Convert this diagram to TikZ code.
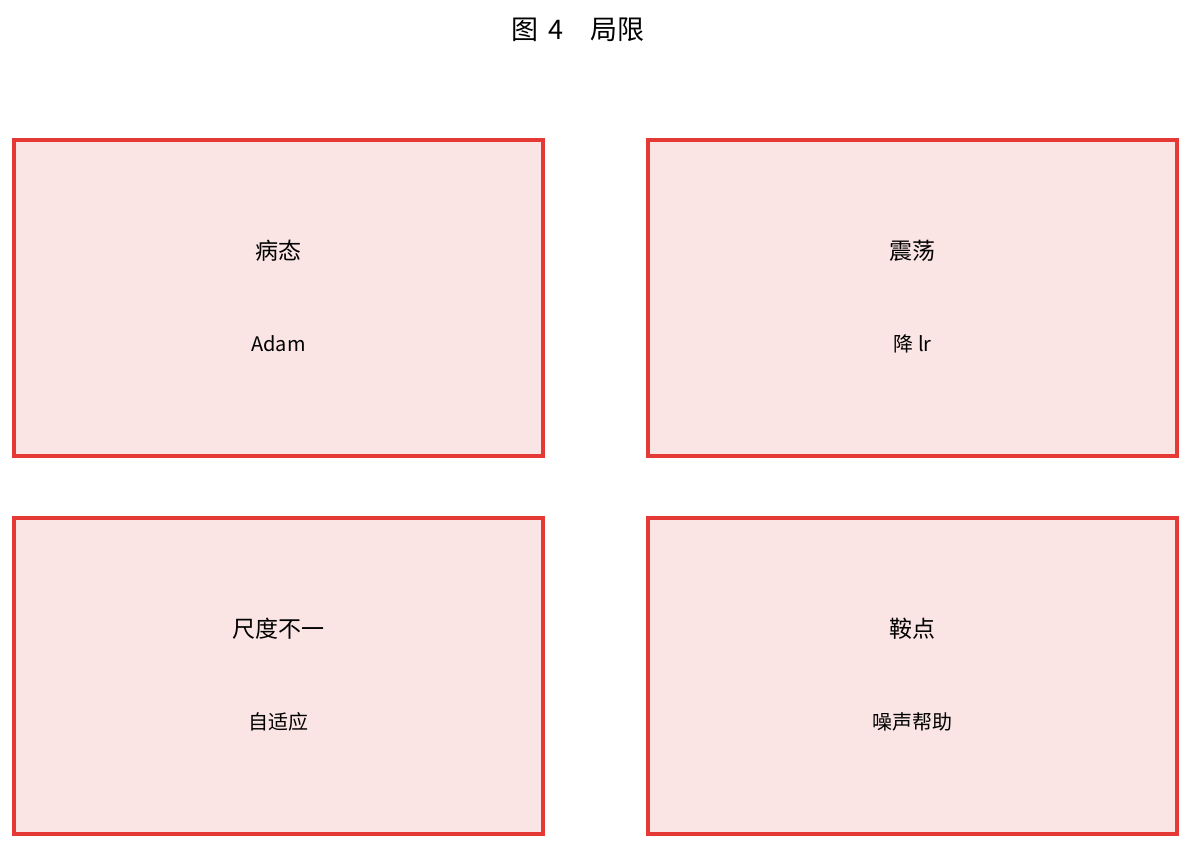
\documentclass[tikz,border=0pt]{standalone}
\usepackage{fontspec}
\setmainfont{Noto Sans CJK SC}
\definecolor{boxred}{HTML}{E53935}
\definecolor{boxfill}{HTML}{FAE4E4}
\begin{document}
\begin{tikzpicture}[x=1pt,y=-1pt,
  card/.style={draw=boxred,fill=boxfill,line width=3.4pt,minimum width=529pt,minimum height=316pt,inner sep=0pt},
  cardtitle/.style={font=\fontsize{23}{26}\selectfont,inner sep=0pt,anchor=center},
  cardsub/.style={font=\fontsize{20}{22}\selectfont,inner sep=0pt,anchor=center},
  heading/.style={font=\fontsize{27}{30}\selectfont,inner sep=0pt,anchor=center}]
\useasboundingbox[fill=white] (0,0) rectangle (1192,849);
\node[heading] (title) at (578,30) {图\hspace{0.35em}4\hspace{1em}局限};
\node[card] (b1) at (278.5,298) {};
\node[card] (b2) at (912.5,298) {};
\node[card] (b3) at (278.5,676) {};
\node[card] (b4) at (912.5,676) {};
\node[cardtitle] (t1) at (278.5,251) {病态};
\node[cardsub] (s1) at (278.5,344) {Adam};
\node[cardtitle] (t2) at (912.5,251) {震荡};
\node[cardsub] (s2) at (912.5,344) {降 lr};
\node[cardtitle] (t3) at (278.5,629) {尺度不一};
\node[cardsub] (s3) at (278.5,722) {自适应};
\node[cardtitle] (t4) at (912.5,629) {鞍点};
\node[cardsub] (s4) at (912.5,722) {噪声帮助};
\end{tikzpicture}
\end{document}
